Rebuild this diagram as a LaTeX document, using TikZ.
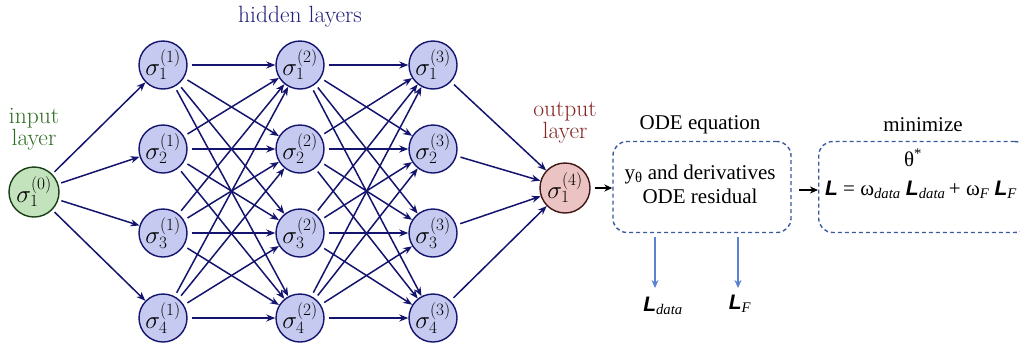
\documentclass[tikz,border=0pt]{standalone}
\usepackage{fontspec}
\newfontfamily\tms{Liberation Serif}
\newfontfamily\hlv{Liberation Sans}
\usetikzlibrary{arrows.meta}
\definecolor{navy}{HTML}{14146E}
\definecolor{hidfill}{HTML}{C6CAF0}
\definecolor{infill}{HTML}{C3E3BC}
\definecolor{inborder}{HTML}{1A3F16}
\definecolor{outfill}{HTML}{EBC3C3}
\definecolor{outborder}{HTML}{401616}
\definecolor{greentxt}{HTML}{2F6E22}
\definecolor{redtxt}{HTML}{862424}
\definecolor{hidtxt}{HTML}{22227F}
\definecolor{boxblue}{HTML}{3A5A9E}
\definecolor{arrblue}{HTML}{5A82D2}
\newcommand{\BL}{{\hlv\bfseries\itshape L}}
\newcommand{\SB}[1]{\textsubscript{\tms\itshape #1}}
\begin{document}
\begin{tikzpicture}[x=1pt,y=-1pt,
  neuron/.style={circle,draw=navy,line width=1.4pt,fill=hidfill,minimum size=48pt,inner sep=0pt,font=\fontsize{23.5}{26}\selectfont},
  innode/.style={neuron,draw=inborder,fill=infill,minimum size=50pt},
  outnode/.style={neuron,draw=outborder,fill=outfill,minimum size=50pt},
  conn/.style={draw=navy,line width=1.5pt,-{Stealth[length=9pt,width=7pt]}},
  dbox/.style={draw=boxblue,dashed,line width=1.4pt,rounded corners=14pt,dash pattern=on 4pt off 3pt},
  serif/.style={font=\tms\fontsize{21}{24}\selectfont},
  lbl/.style={font=\fontsize{23.5}{22}\selectfont,align=center},
  blk/.style={draw=black,line width=1.5pt,-{Stealth[length=8pt,width=7pt]}},
  blu/.style={draw=arrblue,line width=1.4pt,-{Stealth[length=8pt,width=7pt]}}
]
\useasboundingbox (0,0) rectangle (1020,346);
\fill[white] (0,0) rectangle (1020,346);
% nodes
\node[innode] (i) at (34,192) {$\sigma_1^{(0)}$};
\foreach \l/\x in {1/163,2/300,3/433}{
  \foreach \k/\y in {1/65,2/149,3/233,4/318}{
    \node[neuron] (n\l\k) at (\x,\y) {$\sigma_{\k}^{(\l)}$};
  }
}
\node[outnode] (o) at (565,188) {$\sigma_1^{(4)}$};
% connectors
\foreach \k in {1,...,4}{ \draw[conn,shorten <=3pt] (i) -- (n1\k); }
\foreach \a in {1,...,4}{ \foreach \b in {1,...,4}{
  \draw[conn,shorten <=4pt] (n1\a) -- (n2\b);
  \draw[conn,shorten <=4pt] (n2\a) -- (n3\b);
}}
\foreach \k in {1,...,4}{ \draw[conn,shorten <=4pt] (n3\k) -- (o); }
% labels
\node[lbl,text=hidtxt] (hl) at (300,17) {hidden layers};
\node[lbl,text=greentxt] (il) at (34,129) {input\\layer};
\node[lbl,text=redtxt] (ol) at (565,123) {output\\layer};
% boxes
\node[dbox,minimum width=178pt,minimum height=91pt] (ode) at (702,187) {};
\node[serif] (odet) at (700,125) {ODE equation};
\node[serif,align=center] (odetx) at (700,184) {y\textsubscript{θ} and derivatives\\ODE residual};
\node[dbox,minimum width=210pt,minimum height=91pt,anchor=west] (mn) at (818,187) {};
\node[serif] (mnt) at (923,125) {minimize};
\node[serif] (th) at (913,158) {θ\textsuperscript{*}};
\node[font=\tms\fontsize{21}{24}\selectfont] (frm) at (921,190) {\BL\ = ω\SB{data} \BL\SB{data}\,+ ω\SB{F} \BL\SB{F}};
% arrows
\draw[blk,shorten <=4pt] (o) -- (ode.west |- o);
\draw[blk] (ode.east |- frm) ++(7,0) coordinate (s) (s) -- (mn.west |- frm);
\coordinate (d1s) at (655,237);
\coordinate (d2s) at (738,237);
\coordinate (d1e) at (655,288);
\coordinate (d2e) at (738,288);
\node[font=\tms\fontsize{21}{24}\selectfont] (ld) at (663,306) {\BL\SB{data}};
\node[font=\tms\fontsize{21}{24}\selectfont] (lf) at (740,304) {\BL\SB{F}};
\draw[blu] (d1s) -- (d1e);
\draw[blu] (d2s) -- (d2e);
\end{tikzpicture}
\end{document}
